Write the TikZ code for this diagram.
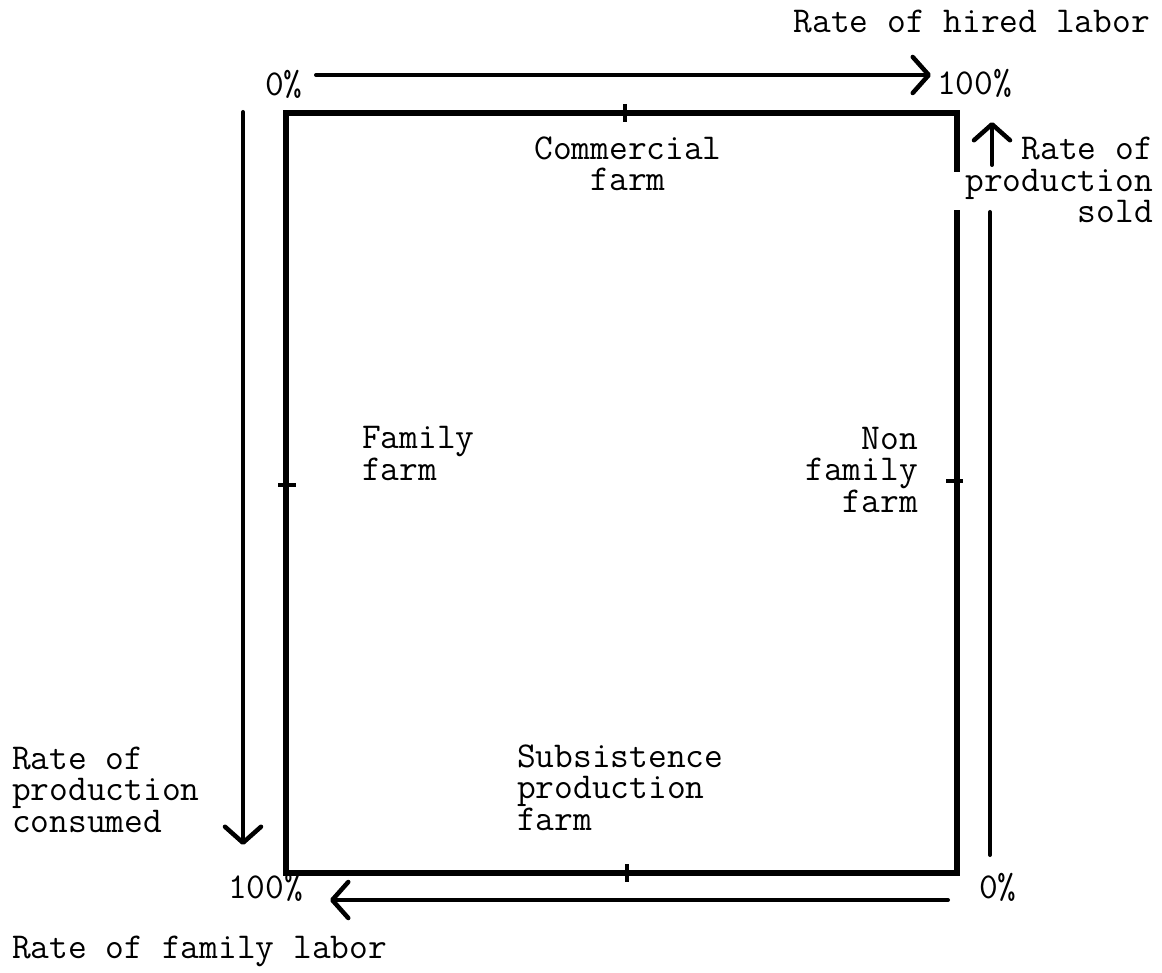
\documentclass[tikz,border=0pt]{standalone}
\usepackage{fontspec}
\usetikzlibrary{arrows.meta}
\tikzset{
  lbl/.style={inner sep=0pt, font=\ttfamily\fontsize{36.4pt}{31.5pt}\selectfont},
  frame/.style={line width=5.5pt, line join=miter},
  tick/.style={line width=3.5pt},
  axis/.style={line width=4pt, line cap=round,
    -{Straight Barb[length=16pt,width=36pt,line width=4.5pt,round]}},
}
\begin{document}
\begin{tikzpicture}[x=1pt,y=-1pt]
\useasboundingbox (0,0) rectangle (1162,973);

% corners of the frame
\coordinate (tl) at (286,113);
\coordinate (tr) at (957,113);
\coordinate (bl) at (286,873);
\coordinate (br) at (957,873);
% the right side is broken where its label crosses it
\coordinate (rgapA) at (957,172);
\coordinate (rgapB) at (957,210);

\draw[frame] (rgapA) -- (tr) -- (tl) -- (bl) -- (br) -- (rgapB);

% midpoint ticks
\draw[tick] (625,104) -- (625,122);
\draw[tick] (627,864) -- (627,882);
\draw[tick] (278,485) -- (296,485);
\draw[tick] (946,481) -- (963,481);

% axis arrows
\coordinate (topS) at (316,75);   \coordinate (topE) at (931,75);
\coordinate (lefS) at (243,112);  \coordinate (lefE) at (243,845);
\coordinate (botS) at (948,900);  \coordinate (botE) at (330,900);
\coordinate (rigS) at (990,855);  \coordinate (rigM) at (990,212);
\coordinate (rigN) at (992,165);  \coordinate (rigE) at (992,122);

\draw[axis] (topS) -- (topE);
\draw[axis] (lefS) -- (lefE);
\draw[axis] (botS) -- (botE);
\draw[line width=4pt, line cap=round] (rigS) -- (rigM);
\draw[axis] (rigN) -- (rigE);

% axis labels (a multi-line node sits on the baseline of its last line)
\node[lbl, anchor=base east, align=right] (hired) at (1150,33) {Rate of hired labor};
\node[lbl, anchor=base west] (p0top) at (265,96) {0\%};
\node[lbl, anchor=base west] (p100top) at (937,95) {100\%};
\node[lbl, anchor=base east, align=right] (sold) at (1153,223) {Rate of\\production\\sold};
\node[lbl, anchor=base west, align=left] (consumed) at (12,832) {Rate of\\production\\consumed};
\node[lbl, anchor=base west] (p100bot) at (228,898) {100\%};
\node[lbl, anchor=base west] (p0bot) at (979,898) {0\%};
\node[lbl, anchor=base west] (family) at (12,958) {Rate of family labor};

% farm types
\node[lbl, anchor=base, align=center] (commercial) at (628,191) {Commercial\\farm};
\node[lbl, anchor=base west, align=left] (famfarm) at (362,480) {Family\\farm};
\node[lbl, anchor=base east, align=right] (nonfam) at (918,512) {Non\\family\\farm};
\node[lbl, anchor=base west, align=left] (subsist) at (517,830) {Subsistence\\production\\farm};
\end{tikzpicture}
\end{document}
